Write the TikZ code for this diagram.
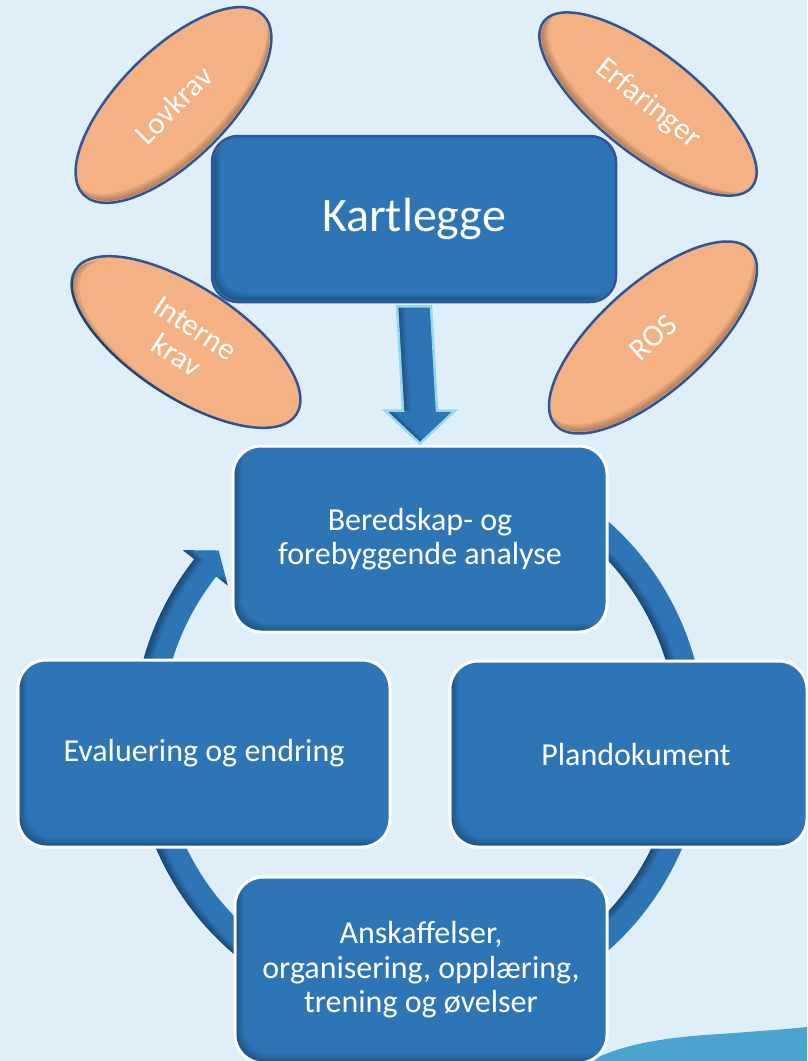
\documentclass[tikz,border=0pt]{standalone}
\usepackage{fontspec}
\setmainfont{Carlito}
\usetikzlibrary{shapes.geometric,calc}
\definecolor{bgc}{RGB}{222,239,250}
\definecolor{boxblue}{RGB}{46,117,182}
\definecolor{orangefill}{RGB}{244,177,131}
\definecolor{darkline}{RGB}{47,85,151}
\definecolor{arrowline}{RGB}{150,215,240}
\definecolor{wavecol}{RGB}{75,163,207}
\newcommand\ovalshade[6]{%
 \begin{scope}[shift={(#1,#2)}, rotate=#3]
  \clip (0,0) ellipse [x radius=#4pt-2pt, y radius=#5pt-2pt];
  \foreach \d in {1,...,10}
   \fill[black, opacity=0.035, even odd rule] (0,0) ellipse [x radius=#4pt+30pt, y radius=#5pt+30pt] (#6:\d pt) ellipse [x radius=#4pt, y radius=#5pt];
 \end{scope}}
\newcommand\boxshade[2]{%
 \begin{scope}
  \clip[rounded corners=#2] ([shift={(3pt,3pt)}]#1.south west) rectangle ([shift={(-3pt,-3pt)}]#1.north east);
  \foreach \d in {1,...,10}
   \fill[black,opacity=0.035,even odd rule] ([shift={(-20pt,-20pt)}]#1.south west) rectangle ([shift={(20pt,20pt)}]#1.north east)
     [rounded corners=#2] ([shift={(\d pt,\d pt)}]#1.south west) rectangle ([shift={(\d pt+20pt,\d pt+20pt)}]#1.north east);
 \end{scope}}
\tikzset{
 cycbox/.style={rectangle, rounded corners=28pt, fill=boxblue, draw=white, line width=3pt, text=white, align=center, font=\fontsize{32}{34.5}\selectfont, inner sep=0pt},
 topbox/.style={rectangle, rounded corners=26pt, fill=boxblue, draw=darkline, line width=2.5pt, text=white, font=\fontsize{48}{56}\selectfont},
 oval/.style={ellipse, fill=orangefill, draw=darkline, line width=2.5pt, text=white, inner sep=0pt, align=center, font=\fontsize{31}{33}\selectfont},
 ringpath/.style={insert path={($(C)+(#1,0)+(-60:286)$) arc[start angle=-60, end angle=218.2, radius=286]
   -- ($(C)+(#1,0)+(218.2:300.6)$) -- ($(C)+(#1,0)+(222.8:273)$) -- ($(C)+(#1,0)+(218.2:243.4)$)
   -- ($(C)+(#1,0)+(218.2:258)$) arc[start angle=218.2, end angle=-60, radius=258] -- cycle}},
 arrowpath/.style={insert path={([xshift=-17pt+#1]atop) -- ([xshift=17pt+#1]atop) -- ([xshift=17pt+#1,yshift=33pt]atip)
   -- ([xshift=35pt+#1,yshift=33pt]atip) -- ([xshift=#1]atip) -- ([xshift=-35pt+#1,yshift=33pt]atip)
   -- ([xshift=-17pt+#1,yshift=33pt]atip) -- cycle}},
}
\begin{document}
\begin{tikzpicture}[x=1pt, y=-1pt]
\useasboundingbox (0,0) rectangle (807,1061);
\fill[bgc] (0,0) rectangle (807,1061);
\fill[wavecol] (590,1061) .. controls (615,1048) and (650,1038) .. (720,1034) .. controls (760,1031) and (790,1029) .. (807,1027) -- (807,1061) -- cycle;

% ellipses
\node[oval, rotate=45, minimum width=254pt, minimum height=110pt] (lov) at (173.5,105) {Lovkrav};
\ovalshade{173.5}{105}{45}{127}{55}{70}
\node[oval, rotate=-38.5, minimum width=266pt, minimum height=100pt] (erf) at (648,104) {Erfaringer};
\ovalshade{648}{104}{-38.5}{133}{50}{60}
\node[oval, rotate=-33.3, minimum width=264pt, minimum height=110pt] (int) at (186,342) {Interne\\krav};
\ovalshade{184}{344}{-33.3}{132}{55}{30}
\node[oval, rotate=41.8, minimum width=262pt, minimum height=107pt] (ros) at (653,337.5) {ROS};
\ovalshade{653}{337.5}{41.8}{131}{53.5}{70}

% top box
\node[topbox, minimum width=404pt, minimum height=166pt] (kart) at (414,219) {\raisebox{-4pt}{Kartlegge}};
\boxshade{kart}{26pt}

% cycle ring
\coordinate (C) at (419,736);
\fill[boxblue, ringpath=0];
\begin{scope}
 \clip[ringpath=0];
 \foreach \d in {1,...,10}
  \fill[black, opacity=0.04, even odd rule] (0,380) rectangle (807,1061) [ringpath=\d];
\end{scope}

% cycle boxes
\node[cycbox, minimum width=374pt, minimum height=186pt] (ber) at (420,539) {Beredskap- og\\forebyggende analyse};
\boxshade{ber}{28pt}
\node[cycbox, minimum width=372pt, minimum height=187pt] (eva) at (204,753.5) {\raisebox{-3pt}{Evaluering og endring}};
\boxshade{eva}{28pt}
\node[cycbox, minimum width=357pt, minimum height=186pt] (plan) at (628.5,754) {\raisebox{-2pt}{\hspace*{15pt}Plandokument}};
\boxshade{plan}{28pt}
\node[cycbox, minimum width=372pt, minimum height=186pt] (ans) at (421,970) {Anskaffelser,\\organisering, opplæring,\\trening og øvelser};
\boxshade{ans}{28pt}

% block arrow from Kartlegge to analysis
\coordinate (atop) at ([yshift=-3pt]kart.south);
\coordinate (atip) at ([yshift=1pt]ber.north);
\fill[boxblue, arrowpath=0pt];
\begin{scope}
 \clip[arrowpath=0pt];
 \foreach \d in {1,...,8}
  \fill[black, opacity=0.04, even odd rule] (350,290) rectangle (480,460) [arrowpath=\d pt];
\end{scope}
\draw[arrowline, line width=2.5pt, line join=miter, arrowpath=0pt];
\end{tikzpicture}
\end{document}
